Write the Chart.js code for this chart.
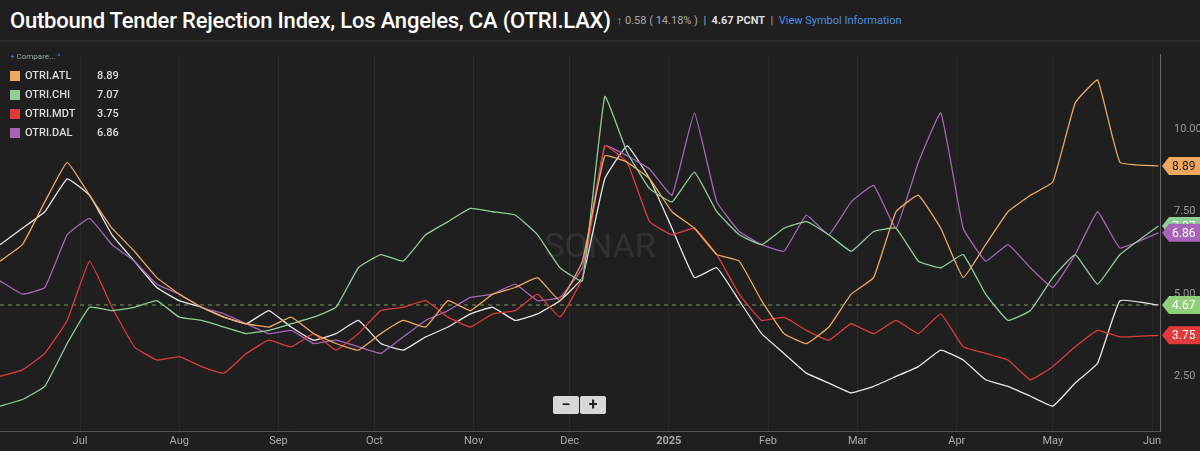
<!DOCTYPE html>
<html>
<head>
<meta charset="utf-8">
<script src="https://cdn.jsdelivr.net/npm/chart.js@4"></script>
<style>
  body { margin: 0; background: #1f1f1f; font-family: Roboto, "Noto Sans", sans-serif; overflow: hidden; }
  #head { height: 40px; border-bottom: 2px solid #2c2c2c; display: flex; align-items: center; padding-left: 10px; color: #fff; }
  #head h1 { font-size: 22px; font-weight: 500; margin: 0; letter-spacing: -0.2px; }
  #head .meta { font-size: 11px; color: #aaa; margin-left: 6px; }
  #head .meta b { color: #ddd; }
  #head .meta .up { color: #5fc36a; }
  #head .meta a { color: #4b8fe0; text-decoration: none; }
  #wrap { position: relative; width: 1200px; height: 409px; }
  #legend { position: absolute; left: 10px; top: 10px; font-size: 11px; color: #ddd; font-weight: 500; }
  #legend .cmp { color: #9aa; font-size: 8px; margin-bottom: 5px; font-weight: normal; }
  #legend .row { display: flex; align-items: center; height: 19px; }
  #legend .sw { width: 10px; height: 10px; margin-right: 5px; }
  #legend .nm { width: 72px; }
  #zoom { position: absolute; left: 553px; top: 354px; display: flex; }
  #zoom div { width: 26px; height: 18px; background: #d8d8d8; color: #222; font-weight: bold; text-align: center; line-height: 18px; font-size: 16px; margin-right: 1px; border-radius: 2px; }
</style>
</head>
<body>
<div id="head">
  <h1>Outbound Tender Rejection Index, Los Angeles, CA (OTRI.LAX)</h1>
  <span class="meta"><span class="up">↑</span> 0.58 ( 14.18% ) &nbsp;|&nbsp; <b>4.67 PCNT</b> &nbsp;|&nbsp; <a>View Symbol Information</a></span>
</div>
<div id="wrap">
  <canvas id="c" width="1200" height="409"></canvas>
  <div id="legend"></div>
  <div id="zoom"><div>−</div><div>+</div></div>
</div>
<script>
// days since 2024-06-06, weekly plus last point
const days = [];
for (let i = 0; i <= 50; i++) days.push(i * 7);
days.push(362);

const monthDays = [25, 56, 87, 117, 148, 178, 209, 240, 268, 299, 329, 360];
const monthLabels = ['Jul', 'Aug', 'Sep', 'Oct', 'Nov', 'Dec', '2025', 'Feb', 'Mar', 'Apr', 'May', 'Jun'];
const yTicks = [2.5, 5, 7.5, 10];

const lax = [6.5,7.0,7.5,8.5,8.0,6.8,6.0,5.2,4.8,4.6,4.3,4.1,4.5,4.0,3.6,3.8,4.2,3.5,3.3,3.7,4.0,4.4,4.6,4.2,4.4,4.8,5.5,8.5,9.5,8.5,7.0,5.5,5.8,4.8,3.8,3.2,2.6,2.3,2.0,2.2,2.5,2.8,3.3,3.0,2.4,2.2,1.9,1.6,2.3,2.9,4.8,4.67];
const atl = [6.0,6.5,7.8,9.0,8.0,7.0,6.3,5.5,5.0,4.6,4.3,4.1,4.0,4.3,3.8,3.5,3.3,3.8,4.2,4.0,4.8,4.5,5.0,5.2,5.5,4.8,6.0,9.2,9.0,8.5,7.5,7.0,6.2,6.0,4.8,3.8,3.5,4.0,5.0,5.5,7.5,8.0,7.0,5.5,6.5,7.5,8.0,8.4,10.8,11.5,9.0,8.89];
const chi = [1.6,1.8,2.2,3.5,4.6,4.5,4.6,4.8,4.3,4.2,4.0,3.8,3.9,4.1,4.3,4.6,5.8,6.2,6.0,6.8,7.2,7.6,7.5,7.4,6.8,5.8,5.4,11.0,9.3,8.2,7.8,8.7,7.5,6.8,6.5,7.0,7.2,6.8,6.3,6.9,7.0,6.0,5.8,6.2,5.0,4.2,4.5,5.5,6.2,5.3,6.2,7.07];
const mdt = [2.5,2.7,3.2,4.2,6.0,4.6,3.4,3.0,3.1,2.8,2.6,3.2,3.6,3.4,3.8,3.3,3.8,4.5,4.6,4.8,4.3,4.0,4.4,4.5,5.0,4.3,5.5,9.5,9.0,7.2,6.8,7.0,6.2,5.0,4.2,4.3,3.9,3.6,4.1,3.8,4.2,3.8,4.4,3.4,3.2,3.0,2.4,2.8,3.4,3.9,3.7,3.75];
const dal = [5.4,5.0,5.2,6.8,7.3,6.5,6.0,5.3,5.0,4.6,4.4,4.1,3.8,3.9,3.5,3.6,3.4,3.2,3.7,4.2,4.5,4.9,5.0,5.3,4.8,4.9,5.8,9.5,9.2,8.8,8.0,10.5,7.8,6.9,6.5,6.3,7.4,6.8,7.8,8.3,7.0,9.0,10.5,7.0,6.0,6.5,5.8,5.2,6.2,7.5,6.4,6.86];

const series = [
  { name: 'OTRI.ATL', data: atl, color: '#f0a860', tag: '8.89', legend: true },
  { name: 'OTRI.CHI', data: chi, color: '#8fcf95', tag: '7.07', legend: true },
  { name: 'OTRI.MDT', data: mdt, color: '#e03a3a', tag: '3.75', legend: true },
  { name: 'OTRI.DAL', data: dal, color: '#a864b8', tag: '6.86', legend: true },
  { name: 'OTRI.LAX', data: lax, color: '#e8e8e8', tag: '4.67', tagColor: '#8fcf7a', legend: false }
];

const legend = document.getElementById('legend');
legend.innerHTML = '<div class="cmp"><span style="color:#4b8fe0">+</span> Compare... <span style="color:#4b8fe0">^</span></div>';
series.filter(s => s.legend).forEach(s => {
  const row = document.createElement('div');
  row.className = 'row';
  row.innerHTML = `<span class="sw" style="background:${s.color}"></span><span class="nm">${s.name}</span><span>${s.tag}</span>`;
  legend.appendChild(row);
});

const extras = {
  id: 'extras',
  beforeDatasetsDraw(chart) {
    const { ctx, chartArea, scales } = chart;
    ctx.save();
    ctx.font = '34px Roboto';
    ctx.fillStyle = 'rgba(255,255,255,0.08)';
    ctx.textAlign = 'center';
    ctx.fillText('SONAR', 600, 215);
    const y = scales.y.getPixelForValue(4.67);
    ctx.strokeStyle = '#7a9a5a';
    ctx.setLineDash([4, 4]);
    ctx.beginPath(); ctx.moveTo(chartArea.left, y); ctx.lineTo(chartArea.right, y); ctx.stroke();
    ctx.restore();
  },
  afterDatasetsDraw(chart) {
    const { ctx, chartArea, scales } = chart;
    ctx.save();
    ctx.font = '12px Roboto';
    ctx.textBaseline = 'middle';
    series.forEach(s => {
      const y = scales.y.getPixelForValue(parseFloat(s.tag));
      const x = chartArea.right + 2;
      ctx.fillStyle = s.tagColor || s.color;
      ctx.beginPath();
      ctx.moveTo(x, y); ctx.lineTo(x + 7, y - 9); ctx.lineTo(x + 40, y - 9);
      ctx.lineTo(x + 40, y + 9); ctx.lineTo(x + 7, y + 9); ctx.closePath(); ctx.fill();
      ctx.fillStyle = s.name === 'OTRI.ATL' ? '#222' : '#fff';
      ctx.fillText(s.tag, x + 10, y + 1);
    });
    ctx.restore();
  }
};

new Chart(document.getElementById('c'), {
  type: 'line',
  data: {
    datasets: series.map(s => ({
      label: s.name,
      data: s.data.map((v, i) => ({ x: days[i], y: v })),
      borderColor: s.color,
      borderWidth: 1.3,
      pointRadius: 0,
      tension: 0.1
    }))
  },
  options: {
    responsive: false,
    animation: false,
    layout: { padding: { right: 0, top: 0 } },
    plugins: { legend: { display: false }, tooltip: { enabled: false } },
    scales: {
      x: {
        type: 'linear', min: 0, max: 362.5,
        afterBuildTicks: a => { a.ticks = monthDays.map(v => ({ value: v })); },
        ticks: {
          color: '#aaa', font: ctx => ({ size: 11, family: 'Roboto', weight: ctx.index === 6 ? 'bold' : 'normal' }),
          callback: (v, i) => monthLabels[i], maxRotation: 0, autoSkip: false
        },
        grid: { color: '#2a2a2a', drawTicks: false },
        border: { color: '#555' }
      },
      y: {
        position: 'right', min: 0.82, max: 12.27,
        afterBuildTicks: a => { a.ticks = yTicks.map(v => ({ value: v })); },
        afterFit: a => { a.width = 40; },
        ticks: { color: '#999', font: { size: 11, family: 'Roboto' }, callback: v => v.toFixed(2), padding: 6 },
        grid: { display: false },
        border: { color: '#666' }
      }
    }
  },
  plugins: [extras]
});
</script>
</body>
</html>
